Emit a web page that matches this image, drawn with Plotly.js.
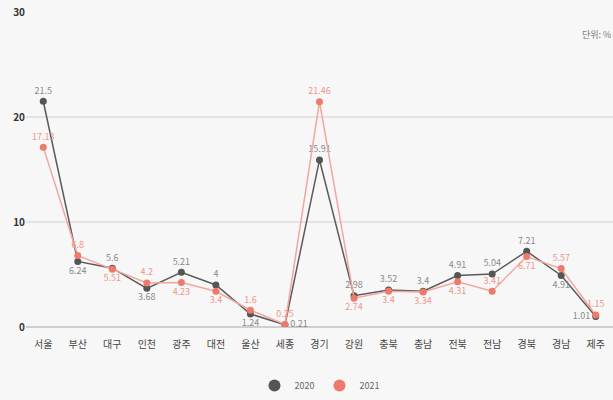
<!DOCTYPE html>
<html>
<head>
<meta charset="utf-8">
<script src="https://cdn.plot.ly/plotly-3.0.1.min.js"></script>
<style>html,body{margin:0;padding:0;background:#f7f7f7;}#chart{width:613px;height:400px;}</style>
</head>
<body>
<div id="chart"></div>
<script>
const regions = ["서울","부산","대구","인천","광주","대전","울산","세종","경기","강원","충북","충남","전북","전남","경북","경남","제주"];
const values2020 = [21.5, 6.24, 5.6, 3.68, 5.21, 4.0, 1.24, 0.21, 15.91, 2.98, 3.52, 3.4, 4.91, 5.04, 7.21, 4.91, 1.01];
const values2021 = [17.13, 6.8, 5.51, 4.2, 4.23, 3.4, 1.6, 0.25, 21.46, 2.74, 3.4, 3.34, 4.31, 3.41, 6.71, 5.57, 1.15];
const yTicks = [0, 10, 20, 30];

// label placement: when the two points are close, the lower one's label is moved out of the way
function lowerPos(v, i, n) {
  if (i === n - 1) return "middle left";
  if (v < 0.5) return "middle right";
  return "bottom center";
}
const n = regions.length;
const pos2020 = values2020.map((v, i) => {
  const o = values2021[i];
  return (Math.abs(v - o) < 1.6 && v <= o) ? lowerPos(v, i, n) : "top center";
});
const pos2021 = values2021.map((v, i) => {
  const o = values2020[i];
  return (Math.abs(v - o) < 1.6 && v <= o && pos2020[i] === "top center") ? lowerPos(v, i, n) : "top center";
});

const labelFont = "Noto Sans CJK KR, sans-serif";
const t2020 = {
  x: regions, y: values2020, name: "2020", type: "scatter", mode: "lines+markers+text",
  text: values2020.map(String), textposition: pos2020, showlegend: false,
  textfont: {family: labelFont, size: 9, color: "#8a8a8a"},
  line: {color: "#5a5a5a", width: 1.5},
  marker: {color: "#555555", size: 7}
};
const t2021 = {
  x: regions, y: values2021, name: "2021", type: "scatter", mode: "lines+markers+text",
  text: values2021.map(String), textposition: pos2021, showlegend: false,
  textfont: {family: labelFont, size: 9, color: "#f0958a"},
  line: {color: "#f2a79c", width: 1.5},
  marker: {color: "#ee7a6c", size: 7}
};
const l2020 = {x: [null], y: [null], name: "2020", type: "scatter", mode: "markers",
  marker: {color: "#555555", size: 12}};
const l2021 = {x: [null], y: [null], name: "2021", type: "scatter", mode: "markers",
  marker: {color: "#ee7a6c", size: 12}};

const layout = {
  width: 613, height: 400,
  margin: {l: 26, r: 0, t: 12, b: 71},
  paper_bgcolor: "#f7f7f7", plot_bgcolor: "#f7f7f7",
  font: {family: labelFont, color: "#333"},
  showlegend: true,
  legend: {orientation: "h", x: 0.5, xanchor: "center", y: -0.14, yanchor: "top",
    font: {size: 9, color: "#666"}, itemsizing: "constant"},
  xaxis: {type: "category", range: [-0.5, 16.5], showgrid: false, zeroline: false,
    showline: false, ticks: "", ticklabelstandoff: 10,
    tickfont: {size: 10, color: "#444"}, fixedrange: true},
  yaxis: {range: [0, 30], tickvals: yTicks, ticktext: yTicks.map(String),
    showgrid: true, gridcolor: "#e4e4e4", gridwidth: 1.5, zeroline: true,
    zerolinecolor: "#cfcfcf", zerolinewidth: 1.5,
    tickfont: {size: 10, color: "#333", weight: "bold"}, ticks: "", fixedrange: true},
  annotations: [{
    text: "단위: %", xref: "paper", yref: "paper", x: 1, y: 0.955, xanchor: "right",
    showarrow: false, font: {size: 9, color: "#777"}
  }]
};

Plotly.newPlot("chart", [t2020, t2021, l2020, l2021], layout, {displayModeBar: false, staticPlot: true});
</script>
</body>
</html>
